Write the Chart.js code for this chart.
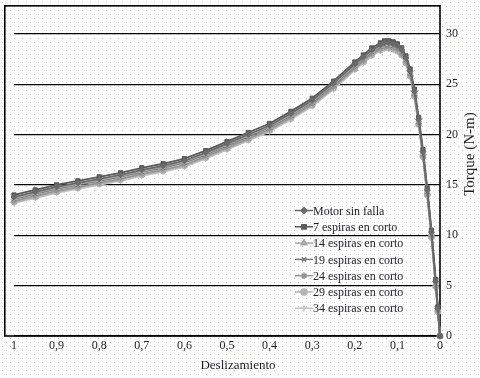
<!DOCTYPE html>
<html><head><meta charset="utf-8">
<script src="https://cdn.jsdelivr.net/npm/chart.js@4/dist/chart.umd.min.js"></script>
<style>html,body{margin:0;padding:0;background:#fff;overflow:hidden}</style>
</head><body>
<canvas id="c" width="480" height="378" style="width:480px;height:378px;display:block"></canvas>
<script>
const slip = [1,0.95,0.9,0.85,0.8,0.75,0.7,0.65,0.6,0.55,0.5,0.45,0.4,0.35,0.3,0.25,0.2,0.18,0.16,0.14,0.13,0.12,0.11,0.1,0.09,0.08,0.07,0.06,0.05,0.04,0.03,0.02,0.01,0.005,0];
const motorSinFalla = [13.8,14.3,14.8,15.2,15.6,16.0,16.5,16.9,17.4,18.2,19.1,20.0,20.9,22.1,23.4,25.1,27.0,27.7,28.4,28.9,29.1,29.1,29.0,28.8,28.4,27.6,26.3,24.3,21.5,18.3,14.5,10.3,5.4,2.7,0];
const espiras7 = [14.0,14.5,15.0,15.4,15.8,16.2,16.7,17.1,17.6,18.4,19.3,20.2,21.1,22.3,23.6,25.3,27.2,27.9,28.6,29.1,29.3,29.3,29.2,29.0,28.6,27.8,26.5,24.5,21.7,18.5,14.7,10.5,5.6,2.9,0];
const espiras14 = [13.7,14.2,14.7,15.1,15.5,15.9,16.4,16.8,17.3,18.1,19.0,19.9,20.8,22.0,23.3,25.0,26.9,27.6,28.3,28.8,29.0,29.0,28.9,28.7,28.3,27.5,26.2,24.2,21.4,18.2,14.4,10.2,5.3,2.7,0];
const espiras19 = [13.6,14.1,14.6,15.0,15.4,15.8,16.3,16.7,17.2,18.0,18.9,19.8,20.7,21.9,23.2,24.9,26.8,27.5,28.2,28.7,28.9,28.9,28.8,28.6,28.2,27.4,26.1,24.1,21.3,18.1,14.3,10.1,5.2,2.6,0];
const espiras24 = [13.4,13.9,14.4,14.8,15.2,15.6,16.1,16.5,17.0,17.8,18.7,19.6,20.5,21.7,23.0,24.7,26.6,27.3,28.0,28.5,28.7,28.7,28.6,28.4,28.0,27.2,25.9,23.9,21.1,17.9,14.1,9.9,5.0,2.5,0];
const espiras29 = [13.3,13.8,14.3,14.7,15.1,15.5,16.0,16.4,16.9,17.7,18.6,19.5,20.4,21.6,22.9,24.6,26.5,27.2,27.9,28.4,28.6,28.6,28.5,28.3,27.9,27.1,25.8,23.8,21.0,17.8,14.0,9.8,4.9,2.4,0];
const espiras34 = [13.2,13.7,14.2,14.6,15.0,15.4,15.9,16.3,16.8,17.6,18.5,19.4,20.3,21.5,22.8,24.5,26.4,27.1,27.8,28.3,28.5,28.5,28.4,28.2,27.8,27.0,25.7,23.7,20.9,17.7,13.9,9.7,4.8,2.3,0];
const seriesNames = ["Motor sin falla","7 espiras en corto","14 espiras en corto","19 espiras en corto","24 espiras en corto","29 espiras en corto","34 espiras en corto"];
const xTickValues = [1,0.9,0.8,0.7,0.6,0.5,0.4,0.3,0.2,0.1,0];
const yTickValues = [0,5,10,15,20,25,30];
const xTitle = "Deslizamiento";
const yTitle = "Torque (N-m)";

const seriesValues = [motorSinFalla, espiras7, espiras14, espiras19, espiras24, espiras29, espiras34];
const styles = [
  {c:'#6a6a6a', p:'rectRot', r:3},
  {c:'#5a5a5a', p:'rect', r:3},
  {c:'#a8a8a8', p:'triangle', r:3.2},
  {c:'#7a7a7a', p:'crossRot', r:3},
  {c:'#959595', p:'star', r:3.2},
  {c:'#b4b4b4', p:'circle', r:3},
  {c:'#c2c2c2', p:'cross', r:3.2}
];
const SERIF = '"Liberation Serif","DejaVu Serif",serif';

const datasets = seriesValues.map((vals,i)=>({
  label: seriesNames[i],
  data: slip.map((s,k)=>({x:s, y:vals[k]})),
  borderColor: styles[i].c,
  backgroundColor: styles[i].c,
  pointBorderColor: styles[i].c,
  pointBackgroundColor: styles[i].c,
  borderWidth: 1.8,
  pointStyle: styles[i].p,
  pointRadius: styles[i].r,
  pointBorderWidth: 1,
  tension: 0,
  clip: 8
}));

const bgPlugin = {
  id:'bg',
  beforeDraw(chart){
    const ctx = chart.ctx;
    ctx.save();
    ctx.fillStyle = '#fff';
    ctx.fillRect(0,0,chart.width,chart.height);
    ctx.fillStyle = '#c4c4c4';
    for (let j=0; j*4 < chart.height+4; j++){
      const off = (j%2)*4;
      for (let x=off; x<chart.width; x+=8){
        ctx.fillRect(x+2, j*4+2, 1, 1);
      }
    }
    ctx.restore();
  },
  beforeDatasetsDraw(chart){
    const ctx = chart.ctx, a = chart.chartArea;
    ctx.save();
    ctx.strokeStyle = '#000';
    ctx.lineWidth = 1.6;
    ctx.strokeRect(4.8, a.top+0.8, a.right-4.8, a.bottom-a.top-0.8);
    ctx.restore();
  },
  afterDraw(chart){
    const ctx = chart.ctx;
    ctx.save();
    ctx.font = '12px ' + SERIF;
    ctx.textBaseline = 'middle';
    ctx.textAlign = 'left';
    chart.data.datasets.forEach((ds,i)=>{
      const y = 210.5 + i*16.3;
      ctx.strokeStyle = ds.borderColor;
      ctx.lineWidth = 1.5;
      ctx.beginPath(); ctx.moveTo(295,y); ctx.lineTo(313,y); ctx.stroke();
      ctx.fillStyle = ds.pointBackgroundColor;
      Chart.helpers.drawPoint(ctx, {pointStyle: ds.pointStyle, radius: ds.pointRadius, borderWidth: 1, rotation:0}, 304, y);
      ctx.fillStyle = '#1e1e28';
      ctx.fillText(ds.label, 313, y+1);
    });
    ctx.font = '13px ' + SERIF;
    ctx.textAlign = 'center';
    ctx.fillStyle = '#1e1e28';
    ctx.fillText(xTitle, 238, 366);
    ctx.translate(470, 154);
    ctx.rotate(-Math.PI/2);
    ctx.font = '15px ' + SERIF;
    ctx.fillText(yTitle, 0, 0);
    ctx.restore();
  }
};

new Chart(document.getElementById('c'), {
  type: 'line',
  data: { datasets },
  plugins: [bgPlugin],
  options: {
    responsive: false,
    devicePixelRatio: 1,
    animation: false,
    layout: { padding: { left: 14, top: 3, right: 0, bottom: 0 } },
    plugins: { legend: { display: false }, tooltip: { enabled: false } },
    scales: {
      x: {
        type: 'linear', reverse: true, min: 0, max: 1, position: 'bottom',
        grid: { display: false, drawTicks: false },
        border: { display: false },
        afterBuildTicks: s => { s.ticks = xTickValues.map(v=>({value:v})); },
        afterFit: s => { s.height = 42; s.paddingLeft = 0; s.paddingRight = 0; },
        ticks: {
          autoSkip: false, maxRotation: 0, padding: 3,
          color: '#1e1e28', font: { family: SERIF, size: 12 },
          callback: v => String(v).replace('.', ',')
        }
      },
      y: {
        type: 'linear', position: 'right', min: 0, max: 32.86,
        grid: { color: '#000', lineWidth: 1.3, drawTicks: false },
        border: { display: false },
        afterBuildTicks: s => { s.ticks = yTickValues.map(v=>({value:v})); },
        afterFit: s => { s.width = 40; s.paddingTop = 0; s.paddingBottom = 0; },
        ticks: {
          padding: 6, color: '#1e1e28', font: { family: SERIF, size: 12 }
        }
      }
    }
  }
});
</script>
</body></html>
